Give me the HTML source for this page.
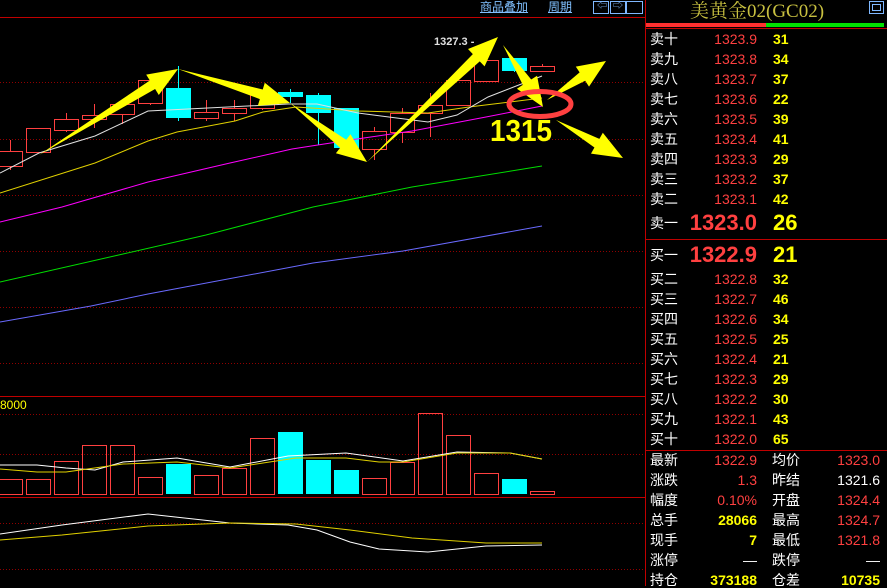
<!DOCTYPE html>
<html><head><meta charset="utf-8">
<style>
html,body{margin:0;padding:0;background:#000;}
body{width:887px;height:586px;position:relative;overflow:hidden;font-family:"Liberation Sans","Noto Sans CJK SC",sans-serif;}
svg{position:absolute;left:0;top:0;}
.t{position:absolute;white-space:nowrap;line-height:1;}
</style></head><body>
<svg id="s" width="887" height="586" xmlns="http://www.w3.org/2000/svg"></svg>
<script>
var S=document.getElementById('s'),h='';
function L(x1,y1,x2,y2,c,w,d){h+='<line x1="'+x1+'" y1="'+y1+'" x2="'+x2+'" y2="'+y2+'" stroke="'+c+'" stroke-width="'+(w||1)+'"'+(d?' stroke-dasharray="'+d+'"':'')+'/>';}
function P(pts,c,w){h+='<polyline fill="none" stroke="'+c+'" stroke-width="'+(w||1)+'" points="'+pts.map(function(p){return p.join(',')}).join(' ')+'"/>';}
L(0,17.5,645,17.5,'#c00000',1);
L(645.5,0,645.5,586,'#c00000',1);
[82.5,139.5,195.5,251.5,307.5,363.5,414.5,454.5,523.5,569.5].forEach(function(y){L(0,y,645,y,'#900000',1,'1,2');});
L(0,396.5,645,396.5,'#c00000',1);
L(0,497.5,645,497.5,'#c00000',1);
var C=[[151,166,140,170,0],[128,152,128,152,0],[119,130,113,132,0],[115,119,104,128,0],[104,114,104,124,0],[80,103,80,105,0],[88,118,66,121,1],[112,118,100,121,0],[108,113,100,121,0],[94,108,94,110,0],[92,97,89,103,1],[95,113,93,145,1],[108,148,108,148,1],[131,149,127,160,0],[113,132,108,143,0],[105,113,93,137,0],[80,105,80,105,0],[60,81,53,81,0],[58,71,58,72,1],[66,71,64,71,0]];
C.forEach(function(c,i){var x=10+28*i;
 if(c[4]){L(x+.5,c[2],x+.5,c[3],'#00ffff');h+='<rect x="'+(x-12)+'" y="'+c[0]+'" width="25" height="'+(c[1]-c[0])+'" fill="#00ffff"/>';}
 else{L(x+.5,c[2],x+.5,c[0],'#ff4040');L(x+.5,c[1],x+.5,c[3],'#ff4040');h+='<rect x="'+(x-11.5)+'" y="'+(c[0]+.5)+'" width="24" height="'+(c[1]-c[0])+'" fill="none" stroke="#ff4040"/>';}
});
P([[0,222],[62,207],[148,182],[230,163],[292,149],[350,140],[412,131],[486,117],[542,106]],'#ff00ff');
P([[0,282],[123,254],[206,235],[313,207],[412,187],[542,166]],'#00dd00');
P([[0,322],[91,306],[148,294],[313,263],[403,251],[542,226]],'#6a6aff');
P([[0,193],[95,163],[148,141],[177,132],[235,121],[263,112],[296,107],[358,111],[428,113],[469,107],[542,98]],'#e0d000');
P([[0,173],[39,153],[95,136],[148,111],[288,104],[317,104],[358,113],[428,122],[457,115],[488,97],[542,76]],'#e0e0e0');
var V=[479,479,461,445,445,477,464,475,468,438,432,460,470,478,462,413,435,473,479,491],VC=[6,10,11,12,18];
V.forEach(function(y,i){var x=10+28*i;
 if(VC.indexOf(i)>=0)h+='<rect x="'+(x-12)+'" y="'+y+'" width="25" height="'+(494-y)+'" fill="#00ffff"/>';
 else h+='<rect x="'+(x-11.5)+'" y="'+(y+.5)+'" width="24" height="'+(494-y)+'" fill="none" stroke="#ff4040"/>';});
P([[0,465],[37,465],[66,468],[95,470],[123,462],[177,458],[230,467],[288,456],[346,453],[403,461],[457,452],[510,453],[542,459]],'#ffffff');
P([[0,469],[37,472],[66,472],[123,464],[177,462],[230,468],[296,458],[346,458],[379,462],[403,462],[457,453],[510,453],[542,459]],'#e0d000');
P([[0,534],[62,525],[148,514],[230,523],[288,525],[317,530],[350,542],[379,549],[428,552],[486,546],[542,545]],'#ffffff');
P([[0,540],[62,535],[148,526],[230,523],[296,524],[350,530],[412,538],[486,543],[542,543]],'#e0d000');
function A(x1,y1,x2,y2){var dx=x2-x1,dy=y2-y1,l=Math.sqrt(dx*dx+dy*dy),ux=dx/l,uy=dy/l,nx=-uy,ny=ux,hl=Math.min(30,l*0.4),hw=12,sw=5;
 var bx=x2-ux*hl,by=y2-uy*hl;
 var pts=[[x1,y1],[bx+nx*sw,by+ny*sw],[bx+nx*hw,by+ny*hw],[x2,y2],[bx-nx*hw,by-ny*hw],[bx-nx*sw,by-ny*sw]];
 h+='<polygon fill="#ffff00" points="'+pts.map(function(p){return p.join(',')}).join(' ')+'"/>';}
A(39,155,178,69);A(178,69,290,103);A(290,103,367,162);A(367,162,498,37);A(503,45,543,107);A(547,100,606,61);A(556,120,623,158);
h+='<ellipse cx="540" cy="104" rx="31" ry="12.5" fill="none" stroke="#ff4040" stroke-width="5"/>';
[[593,15],[610,15],[626,16]].forEach(function(b){h+='<rect x="'+(b[0]+.5)+'" y="1.5" width="'+b[1]+'" height="12" fill="none" stroke="#80b8ff"/>';});
h+='<rect x="869.5" y="1.5" width="14" height="12" fill="none" stroke="#80b8ff"/><rect x="872.5" y="4.5" width="8" height="6" fill="none" stroke="#80b8ff"/>';
h+='<rect x="646" y="23" width="120" height="4" fill="#ff3030"/><rect x="766" y="23" width="118" height="4" fill="#00e000"/>';
L(646,28.5,887,28.5,'#c00000');L(646,239.5,887,239.5,'#c00000');L(646,450.5,887,450.5,'#c00000');
S.innerHTML=h;
</script>
<div class="t" style="left:480px;top:1px;font-size:12px;color:#80c0ff;text-decoration:underline;">商品叠加</div>
<div class="t" style="left:548px;top:1px;font-size:12px;color:#80c0ff;text-decoration:underline;">周期</div>
<div class="t" style="left:597px;top:2px;font-size:10px;color:#80b8ff;">⇦</div>
<div class="t" style="left:613px;top:2px;font-size:10px;color:#80b8ff;">⇨</div>
<div class="t" style="left:434px;top:37px;font-size:11px;color:#e0e0e0;font-weight:bold;">1327.3 -</div>
<div class="t" style="left:490px;top:115px;font-size:31px;color:#ffff00;font-weight:bold;transform:scaleX(0.9);transform-origin:left;">1315</div>
<div class="t" style="left:0px;top:399px;font-size:12px;color:#ffff00;">8000</div>
<div class="t" style="left:690px;top:2px;font-size:19px;color:#c8c040;font-family:'Liberation Serif','Noto Serif CJK SC',serif;">美黄金02(GC02)</div>
<div id="r"></div>
<script>
var r='',rows=[['卖十','1323.9','31'],['卖九','1323.8','34'],['卖八','1323.7','37'],['卖七','1323.6','22'],['卖六','1323.5','39'],['卖五','1323.4','41'],['卖四','1323.3','29'],['卖三','1323.2','37'],['卖二','1323.1','42']];
function T(x,y,s,c,fs,b,right){r+='<div class="t" style="'+(right?'right:'+(887-x)+'px;':'left:'+x+'px;')+'top:'+(y-fs/2-1)+'px;font-size:'+fs+'px;color:'+c+';'+(b?'font-weight:bold;':'')+'">'+s+'</div>';}
rows.forEach(function(a,i){var y=40+20*i;T(650,y,a[0],'#fff',14);T(757,y,a[1],'#ff4040',14,0,1);T(773,y,a[2],'#ffff00',14,1);});
T(650,224,'卖一','#fff',14);T(757,224,'1323.0','#ff4040',22,1,1);T(773,224,'26','#ffff00',22,1);
T(650,256,'买一','#fff',14);T(757,256,'1322.9','#ff4040',22,1,1);T(773,256,'21','#ffff00',22,1);
[['买二','1322.8','32'],['买三','1322.7','46'],['买四','1322.6','34'],['买五','1322.5','25'],['买六','1322.4','21'],['买七','1322.3','29'],['买八','1322.2','30'],['买九','1322.1','43'],['买十','1322.0','65']].forEach(function(a,i){var y=280+20*i;T(650,y,a[0],'#fff',14);T(757,y,a[1],'#ff4040',14,0,1);T(773,y,a[2],'#ffff00',14,1);});
[['最新','1322.9','#ff4040','均价','1323.0','#ff4040'],['涨跌','1.3','#ff4040','昨结','1321.6','#fff'],['幅度','0.10%','#ff4040','开盘','1324.4','#ff4040'],['总手','28066','#ffff00','最高','1324.7','#ff4040'],['现手','7','#ffff00','最低','1321.8','#ff4040'],['涨停','—','#fff','跌停','—','#fff'],['持仓','373188','#ffff00','仓差','10735','#ffff00']].forEach(function(a,i){var y=461+20*i;T(650,y,a[0],'#fff',14);T(757,y,a[1],a[2],14,a[2]=='#ffff00',1);T(772,y,a[3],'#fff',14);T(880,y,a[4],a[5],14,a[5]=='#ffff00',1);});
document.getElementById('r').innerHTML=r;
</script>
</body></html>
